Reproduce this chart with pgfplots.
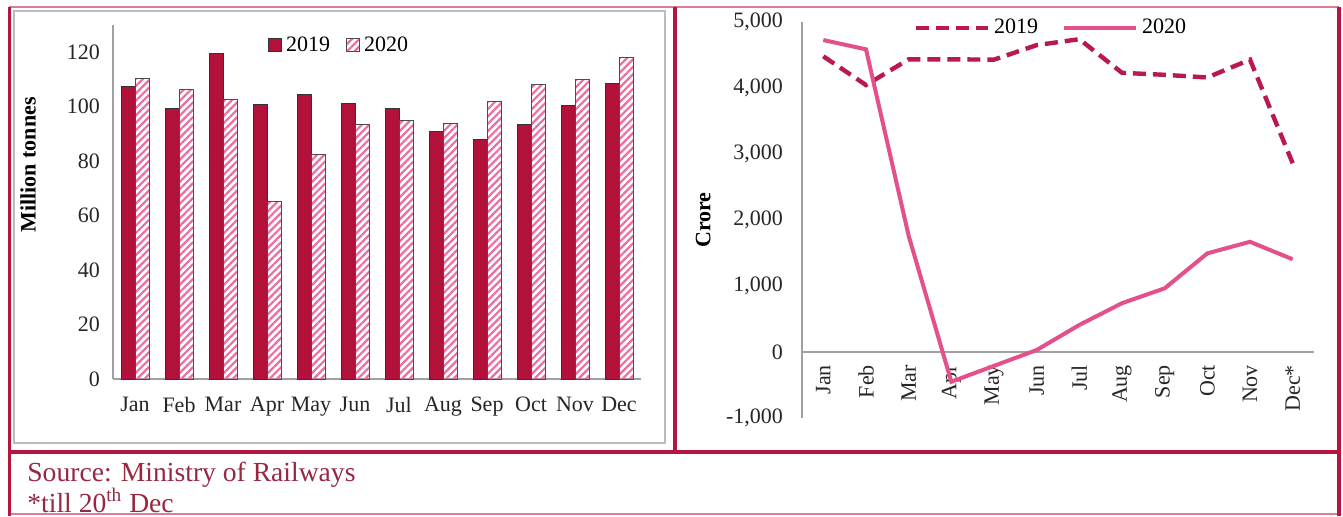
\documentclass[border=0pt]{standalone}
\usepackage{pgfplots}
\pgfplotsset{compat=1.18}
\usepackage{fontspec}
\setmainfont{Liberation Serif}
\usetikzlibrary{patterns.meta}
\definecolor{crim}{RGB}{178,18,58}
\definecolor{framec}{RGB}{182,22,62}
\definecolor{hatch}{RGB}{236,110,160}
\definecolor{dash19}{RGB}{185,25,75}
\definecolor{line20}{RGB}{228,80,140}
\definecolor{srcc}{RGB}{150,40,65}
\definecolor{axgrey}{RGB}{160,160,160}
\begin{document}
\begin{tikzpicture}[x=0.5pt,y=0.5pt]
\useasboundingbox (0,0) rectangle (1343,516);
\fill[white] (0,0) rectangle (1343,516);
\draw[axgrey!70, line width=1pt] (14,73) rectangle (665,505);
\draw[framec!55, line width=0.8pt] (9,509) -- (1339,509);
\draw[framec!55, line width=0.8pt] (9,2) -- (1339,2);
\draw[framec, line width=1.6pt] (9.5,509) -- (9.5,0);
\draw[framec, line width=1.6pt] (1339,509) -- (1339,0);
\draw[framec, line width=1.6pt] (675,509) -- (675,64);
\draw[framec, line width=1.6pt] (9,64) -- (1339,64);
\node[anchor=base west, text=srcc, font=\fontsize{13.8}{15}\selectfont, inner sep=0pt] at (27,35) {Source: Ministry of Railways};
\node[anchor=base west, text=srcc, font=\fontsize{13.8}{15}\selectfont, inner sep=0pt] at (27,4) {*till 20\textsuperscript{th} Dec};

\begin{axis}[
  at={(56.5pt,68.5pt)}, anchor=south west,
  scale only axis, width=264pt, height=177pt,
  xmin=-0.5, xmax=11.5, ymin=0, ymax=130,
  ybar=0pt, bar width=7pt,
  axis x line=bottom, axis y line=left,
  axis line style={axgrey, line width=0.75pt, -},
  xtick={0,...,11},
  xticklabels={Jan,Feb,Mar,Apr,May,Jun,Jul,Aug,Sep,Oct,Nov,Dec},
  ytick={0,20,...,120},
  major tick length=0pt,
  /pgf/number format/assume math mode=true,
  tick label style={font=\fontsize{11}{13}\selectfont, text=black!85},
  xticklabel style={yshift=-5.5pt},
  yticklabel style={xshift=-3pt},
  ylabel={\textbf{Million tonnes}},
  ylabel style={at={(axis description cs:-0.161,0.605)}, anchor=center, font=\fontsize{11}{13}\selectfont},
  legend style={at={(axis description cs:0.43,0.943)}, anchor=center, draw=none, fill=none,
    font=\fontsize{11}{13}\selectfont, legend columns=2,
    /tikz/every even column/.append style={column sep=6pt}},
  legend image code/.code={\draw[#1] (0pt,-3.3pt) rectangle (6.5pt,3.3pt);},
]
\addplot[fill=crim, draw=black!80, line width=0.5pt] coordinates {
 (0,107.5) (1,99.4) (2,119.6) (3,100.9) (4,104.6) (5,101.3)
 (6,99.4) (7,91) (8,88) (9,93.6) (10,100.6) (11,108.6)};
\addplot[pattern={Lines[angle=45,distance=2.6pt,line width=1.1pt]}, pattern color=hatch, draw=black!70, line width=0.5pt] coordinates {
 (0,110.5) (1,106.4) (2,102.8) (3,65.3) (4,82.6) (5,93.6)
 (6,95) (7,94) (8,102) (9,108.3) (10,110) (11,118.2)};
\legend{2019,2020}
\end{axis}

\begin{axis}[
  at={(401pt,49pt)}, anchor=south west,
  scale only axis, width=256pt, height=198pt,
  xmin=-0.5, xmax=11.5, ymin=-1000, ymax=5000,
  axis x line=middle, axis y line=left,
  axis line style={axgrey, line width=0.75pt, -},
  hide obscured x ticks=false, hide obscured y ticks=false,
  xtick={0,...,11},
  xticklabels={Jan,Feb,Mar,Apr,May,Jun,Jul,Aug,Sep,Oct,Nov,Dec*},
  ytick={-1000,0,1000,2000,3000,4000,5000},
  scaled y ticks=false,
  major tick length=0pt,
  /pgf/number format/assume math mode=true,
  /pgf/number format/1000 sep={,},
  tick label style={font=\fontsize{11}{13}\selectfont, text=black!85},
  xticklabel style={yshift=-3pt, rotate=90, anchor=east},
  yticklabel style={xshift=-6pt},
  ylabel={\textbf{Crore}},
  ylabel style={at={(axis description cs:-0.193,0.5)}, anchor=center, font=\fontsize{11}{13}\selectfont},
  legend style={at={(axis description cs:0.488,0.985)}, anchor=center, draw=none, fill=none,
    font=\fontsize{11}{13}\selectfont, legend columns=2,
    /tikz/every even column/.append style={column sep=10pt}},
  legend image code/.code={\draw[#1] (0pt,0pt) -- (36pt,0pt);},
]
\addplot[dash19, line width=2.2pt, dash pattern=on 6.5pt off 3.5pt] coordinates {
 (0,4480) (1,4045) (2,4435) (3,4435) (4,4430) (5,4650)
 (6,4740) (7,4230) (8,4200) (9,4160) (10,4430) (11,2860)};
\addplot[line20, line width=2pt] coordinates {
 (0,4727) (1,4586) (2,1760) (3,-450) (4,-210) (5,30)
 (6,410) (7,740) (8,965) (9,1495) (10,1670) (11,1405)};
\legend{2019,2020}
\end{axis}
\end{tikzpicture}
\end{document}
